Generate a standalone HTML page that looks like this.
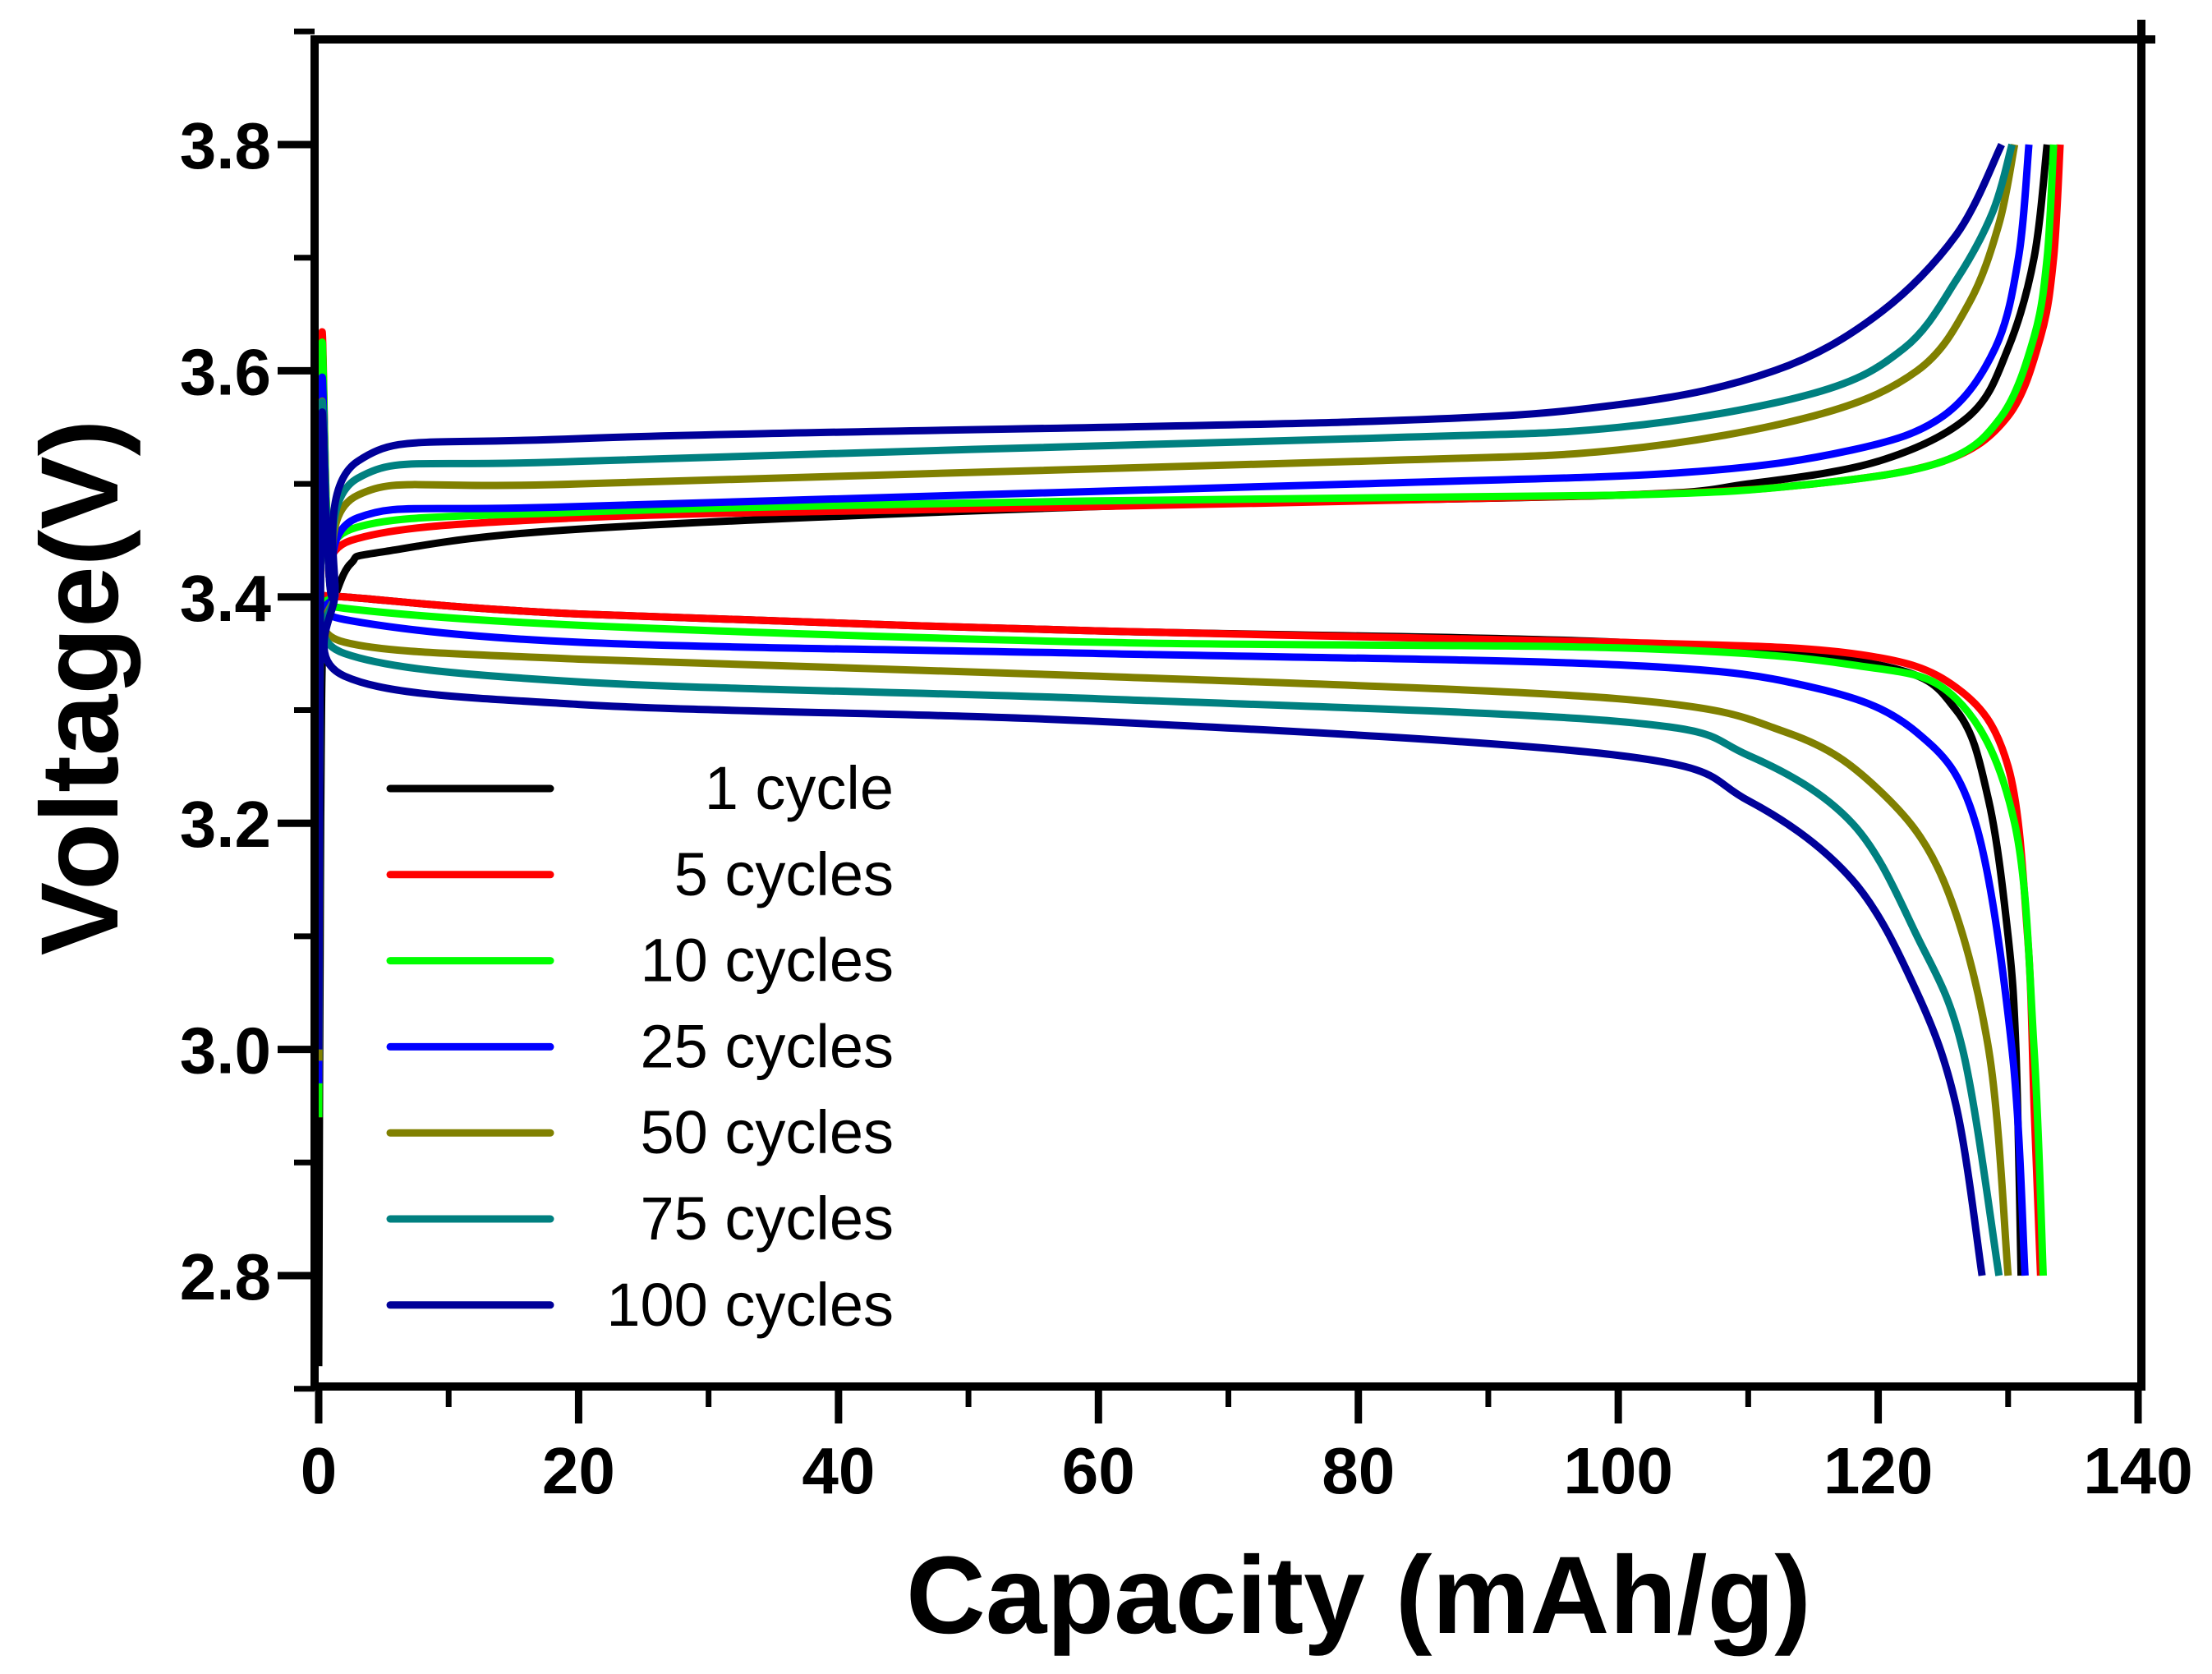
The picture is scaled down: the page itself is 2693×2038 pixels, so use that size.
<!DOCTYPE html>
<html><head><meta charset="utf-8"><style>
html,body{margin:0;padding:0;background:#fff}
svg{display:block;font-family:"Liberation Sans",Arial,sans-serif}
</style></head><body>
<svg id="chart" width="2693" height="2038" viewBox="0 0 2693 2038">
<g id="plot"></g>
<g id="axes"></g>
<g id="legend"></g>
</svg>
<script>
const seriesNames = ["1 cycle","5 cycles","10 cycles","25 cycles","50 cycles","75 cycles","100 cycles"];
const seriesColors = ["#000000","#ff0000","#00ff00","#0000ff","#808000","#008080","#000099"];
const xTicks = [0,20,40,60,80,100,120,140];
const yTicks = [2.8,3.0,3.2,3.4,3.6,3.8];
// charge curves: [capacity, voltage]
const charge1 = [[0,2.72],[0.15,3.2],[0.4,3.38],[1.2,3.40],[2.5,3.43],[5,3.44],[20,3.46],[60,3.48],[100,3.49],[110,3.50],[120,3.52],[127,3.56],[130,3.62],[132,3.7],[133,3.8]];
const charge5 = [[0,2.94],[0.2,3.61],[0.6,3.48],[1.2,3.40],[2.5,3.45],[20,3.47],[60,3.48],[100,3.49],[115,3.50],[125,3.52],[130,3.56],[132.5,3.63],[133.5,3.7],[134,3.8]];
const charge10 = [[0,2.94],[0.2,3.6],[0.6,3.48],[1.2,3.40],[2.5,3.46],[20,3.475],[60,3.485],[100,3.49],[115,3.50],[125,3.52],[129.5,3.56],[132,3.63],[133,3.7],[133.5,3.8]];
const charge25 = [[0,2.97],[0.2,3.57],[0.6,3.47],[1.2,3.40],[3,3.47],[20,3.48],[80,3.50],[105,3.51],[118,3.53],[125,3.56],[129,3.62],[130.8,3.7],[131.6,3.8]];
const charge50 = [[0,2.99],[0.2,3.55],[0.6,3.46],[1.2,3.40],[3,3.49],[20,3.50],[80,3.52],[100,3.53],[115,3.56],[123,3.60],[127,3.66],[129.3,3.73],[130.5,3.8]];
const charge75 = [[0,3.0],[0.2,3.55],[0.6,3.46],[1.2,3.40],[3,3.505],[20,3.52],[80,3.54],[100,3.55],[115,3.58],[122,3.62],[126,3.68],[128.8,3.74],[130.3,3.8]];
const charge100 = [[0,3.0],[0.2,3.54],[0.6,3.46],[1.2,3.40],[3,3.52],[20,3.54],[80,3.555],[100,3.57],[112,3.60],[120,3.65],[126,3.72],[129.5,3.8]];
// discharge curves
const dis1 = [[1.2,3.40],[2,3.40],[20,3.385],[60,3.37],[100,3.36],[120,3.34],[126,3.30],[128.5,3.22],[130,3.1],[130.6,3.0],[131,2.8]];
const dis5 = [[1.2,3.40],[2,3.40],[20,3.385],[60,3.37],[100,3.36],[118,3.35],[126,3.32],[130,3.25],[131.5,3.1],[132,2.95],[132.5,2.8]];
const dis10 = [[1.2,3.40],[2,3.39],[20,3.375],[60,3.36],[100,3.355],[118,3.34],[126,3.31],[130.5,3.2],[132,3.0],[132.7,2.8]];
const dis25 = [[1.2,3.40],[2,3.38],[20,3.36],[60,3.35],[100,3.34],[115,3.32],[123,3.28],[127.5,3.2],[130.3,3.0],[131.3,2.8]];
const dis50 = [[1.2,3.40],[2,3.36],[20,3.345],[60,3.33],[100,3.31],[113,3.28],[120,3.23],[125,3.15],[128.5,3.0],[130,2.8]];
const dis75 = [[1.2,3.40],[2,3.35],[20,3.325],[60,3.31],[100,3.29],[110,3.26],[118,3.20],[123,3.1],[126.5,3.0],[129.3,2.8]];
const dis100 = [[1.2,3.40],[2,3.33],[20,3.305],[60,3.29],[100,3.26],[110,3.22],[118,3.15],[123,3.05],[126,2.95],[128,2.8]];
const chargeSeries = [charge1,charge5,charge10,charge25,charge50,charge75,charge100];
const dischargeSeries = [dis1,dis5,dis10,dis25,dis50,dis75,dis100];

const NS = "http://www.w3.org/2000/svg";
const X0 = 388, X140 = 2603, Y38 = 176, Y28 = 1553;
const L = 383, R = 2607, T = 48, B = 1688;
function sx(v){ return X0 + (v/140)*(X140-X0); }
function sy(v){ return Y28 - (v-2.8)/1.0*(Y28-Y38); }
function mk(tag, attrs, parent){ const e=document.createElementNS(NS,tag); for(const k in attrs) e.setAttribute(k,attrs[k]); parent.appendChild(e); return e; }
function pathFrom(pts){
  const p = pts.map(d=>[sx(d[0]),sy(d[1])]);
  let s = "M"+p[0][0].toFixed(1)+","+p[0][1].toFixed(1);
  for(let i=0;i<p.length-1;i++){
    const p0=p[Math.max(0,i-1)],p1=p[i],p2=p[i+1],p3=p[Math.min(p.length-1,i+2)];
    const c1=[p1[0]+(p2[0]-p0[0])/6,p1[1]+(p2[1]-p0[1])/6];
    const c2=[p2[0]-(p3[0]-p1[0])/6,p2[1]-(p3[1]-p1[1])/6];
    s+=" C"+c1[0].toFixed(1)+","+c1[1].toFixed(1)+" "+c2[0].toFixed(1)+","+c2[1].toFixed(1)+" "+p2[0].toFixed(1)+","+p2[1].toFixed(1);
  }
  return s;
}
const plot = document.getElementById("plot");
for(let i=0;i<seriesNames.length;i++){
  const c = mk("path",{d:pathFrom(chargeSeries[i]),fill:"none",stroke:seriesColors[i],"stroke-width":9,"stroke-linejoin":"round"},plot);
  
  
  const d = mk("path",{d:pathFrom(dischargeSeries[i]),fill:"none",stroke:seriesColors[i],"stroke-width":9,"stroke-linejoin":"round"},plot);
  
  
}
const axes = document.getElementById("axes");
const fr1 = mk("line",{x1:L,y1:T-5,x2:L,y2:B+5,stroke:"#000","stroke-width":10},axes);


const fr2 = mk("line",{x1:L-5,y1:B,x2:R+5,y2:B,stroke:"#000","stroke-width":10},axes);


const fr3 = mk("line",{x1:L-5,y1:T,x2:R+17,y2:T,stroke:"#000","stroke-width":10},axes);


const fr4 = mk("line",{x1:R,y1:T-24,x2:R,y2:B+5,stroke:"#000","stroke-width":10},axes);


for(let i=0;i<xTicks.length;i++){
  const v=xTicks[i];
  mk("line",{x1:sx(v),y1:B,x2:sx(v),y2:B+45,stroke:"#000","stroke-width":9},axes);
  if(i<xTicks.length-1) mk("line",{x1:sx(v+10),y1:B,x2:sx(v+10),y2:B+25,stroke:"#000","stroke-width":7},axes);
  const t = mk("text",{x:sx(v),y:1818,"text-anchor":"middle","font-size":80,"font-weight":"bold"},axes);
  t.textContent = v;
  
  
}
for(let i=0;i<yTicks.length;i++){
  const v=yTicks[i];
  mk("line",{x1:L,y1:sy(v),x2:L-45,y2:sy(v),stroke:"#000","stroke-width":9},axes);
  mk("line",{x1:L,y1:sy(v+0.1),x2:L-25,y2:sy(v+0.1),stroke:"#000","stroke-width":7},axes);
  const t = mk("text",{x:330,y:sy(v)+29,"text-anchor":"end","font-size":80,"font-weight":"bold"},axes);
  t.textContent = v.toFixed(1);
  
  
}
mk("line",{x1:L,y1:sy(2.7),x2:L-25,y2:sy(2.7),stroke:"#000","stroke-width":7},axes);
const xt = mk("text",{x:1654,y:1988,"text-anchor":"middle","font-size":134,"font-weight":"bold"},axes);
xt.textContent = "Capacity (mAh/g)";


const yt = mk("text",{x:0,y:0,"text-anchor":"middle","font-size":134,"font-weight":"bold",transform:"translate(143,837) rotate(-90)"},axes);
yt.textContent = "Voltage(V)";


const legend = document.getElementById("legend");
for(let i=0;i<seriesNames.length;i++){
  const y = 960 + i*104.8;
  const g = mk("g",{},legend);
  
  
  mk("line",{x1:475,y1:y,x2:670,y2:y,stroke:seriesColors[i],"stroke-width":9,"stroke-linecap":"round"},g);
  const t = mk("text",{x:1088,y:y+25,"text-anchor":"end","font-size":74},g);
  t.textContent = seriesNames[i];
}
</script>
</body></html>
